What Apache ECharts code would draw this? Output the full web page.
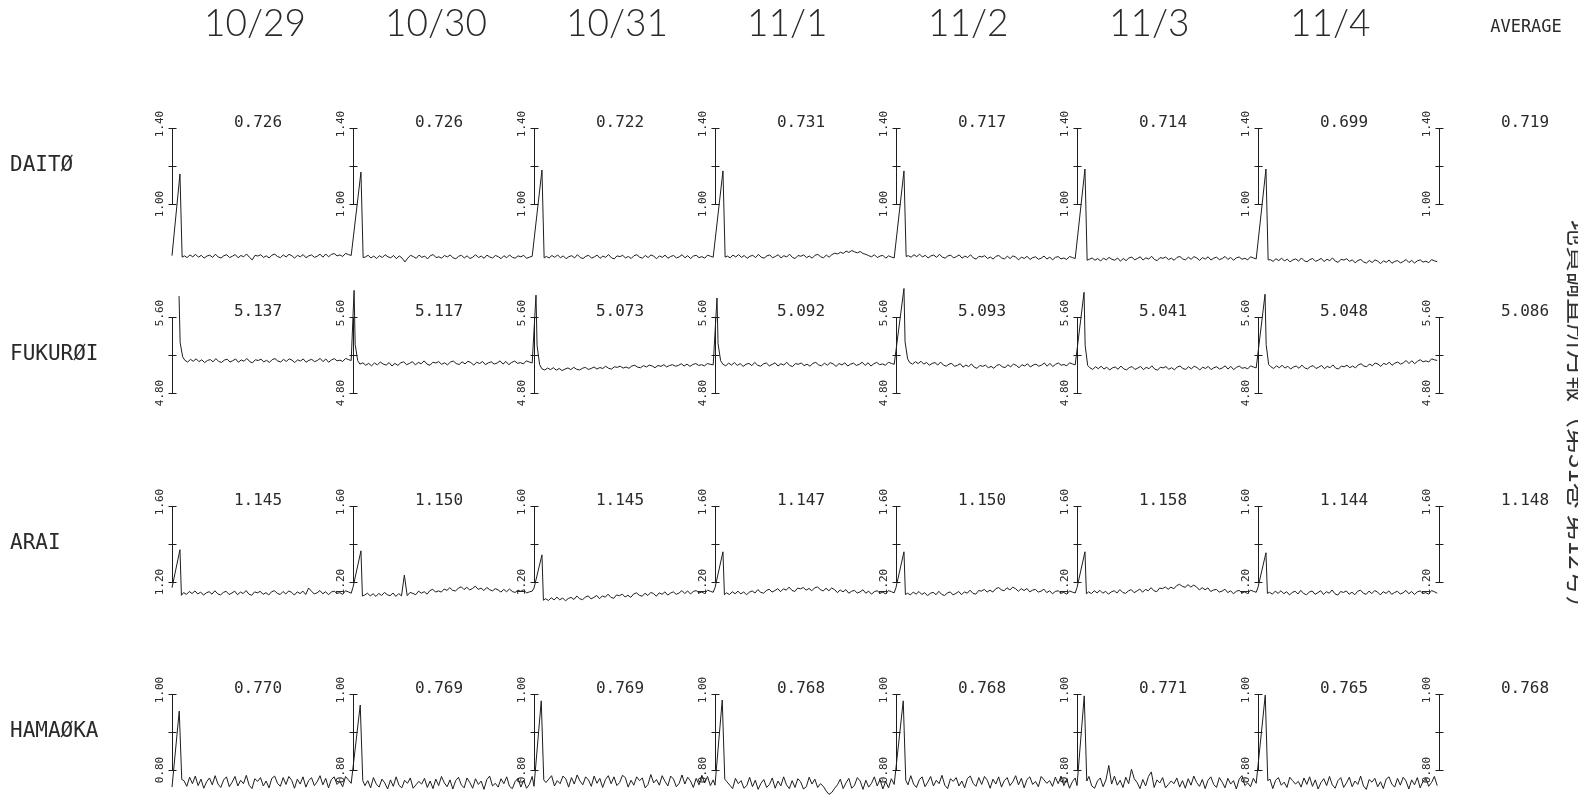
<!DOCTYPE html>
<html>
<head>
<meta charset="utf-8">
<script src="https://cdn.jsdelivr.net/npm/echarts@6/dist/echarts.min.js"></script>
<style>
  html, body { margin: 0; padding: 0; background: #fff; }
  #chart { width: 1578px; height: 799px; }
</style>
</head>
<body>
<div id="chart"></div>
<script>
// ---- Labels ----
const dayLabels = ['10/29', '10/30', '10/31', '11/1', '11/2', '11/3', '11/4'];
const averageTitle = 'AVERAGE';
const stations = ['DAITØ', 'FUKURØI', 'ARAI', 'HAMAØKA'];
const sideNote = '地質調査所月報（第31巻 第12号）';

// Scale bar ticks (low, mid, high) and the printed tick labels per station
const daitoScale = [1.00, 1.20, 1.40];
const fukuroiScale = [4.80, 5.20, 5.60];
const araiScale = [1.20, 1.40, 1.60];
const hamaokaScale = [0.80, 0.90, 1.00];
const daitoScaleLabels = ['1.00', '1.40'];
const fukuroiScaleLabels = ['4.80', '5.60'];
const araiScaleLabels = ['1.20', '1.60'];
const hamaokaScaleLabels = ['0.80', '1.00'];

// Daily means and the seven-day averages
const daitoMeans = [0.726, 0.726, 0.722, 0.731, 0.717, 0.714, 0.699];
const fukuroiMeans = [5.137, 5.117, 5.073, 5.092, 5.093, 5.041, 5.048];
const araiMeans = [1.145, 1.150, 1.145, 1.147, 1.150, 1.158, 1.144];
const hamaokaMeans = [0.770, 0.769, 0.769, 0.768, 0.768, 0.771, 0.765];
const averages = [0.719, 5.086, 1.148, 0.768];

// Calibration pulse at the start of each day: pulse start (fraction of a day),
// shape time offsets, and the three pulse values (start, peak, settle)
const daitoPulseStart = [0, 0, 0, 0, 0, 0, 0];
const daitoPulseShape = [0, 0.044, 0.056];
const daitoPulses = [
  [0.728, 1.158, 0.720], [0.730, 1.168, 0.718], [0.727, 1.179, 0.716], [0.724, 1.174, 0.720],
  [0.722, 1.174, 0.724], [0.712, 1.184, 0.704], [0.718, 1.184, 0.706]
];
const fukuroiPulseStart = [0.039, 0.006, 0.011, 0.011, 0.044, 0.039, 0.039];
const fukuroiPulseShape = [0, 0.006, 0.02];
const fukuroiPulses = [
  [5.82, 5.33, 5.18], [5.88, 5.31, 5.14], [5.83, 5.30, 5.10], [5.80, 5.32, 5.14],
  [5.90, 5.34, 5.16], [5.86, 5.30, 5.09], [5.84, 5.31, 5.10]
];
const araiPulseStart = [0, 0, 0, 0, 0, 0, 0];
const araiPulseShape = [0, 0.044, 0.052];
const araiPulses = [
  [1.170, 1.370, 1.130], [1.172, 1.364, 1.126], [1.168, 1.343, 1.104], [1.170, 1.359, 1.133],
  [1.171, 1.359, 1.134], [1.170, 1.359, 1.138], [1.172, 1.354, 1.140]
];
const hamaokaPulseStart = [0, 0, 0, 0, 0, 0, 0];
const hamaokaPulseShape = [0, 0.040, 0.054];
const hamaokaPulses = [
  [0.755, 0.955, 0.775], [0.760, 0.971, 0.772], [0.757, 0.982, 0.774], [0.760, 0.984, 0.776],
  [0.758, 0.982, 0.773], [0.759, 0.995, 0.771], [0.760, 0.997, 0.772]
];

// Recorded traces for each day after the pulse (evenly spaced through the rest of the day)
const daitoDays = [
  [0.727,0.718,0.732,0.722,0.735,0.720,0.730,0.715,0.726,0.731,0.719,0.736,0.721,0.716,0.728,0.733,0.718,0.725,0.734,0.717,0.729,0.722,0.737,0.720,0.706,0.730,0.726,0.733,0.719,0.727,0.716,0.731,0.736,0.723,0.718,0.732,0.721,0.735,0.728,0.715,0.730,0.722,0.734,0.717,0.727,0.732,0.719,0.725,0.736,0.720,0.737,0.722,0.735,0.739,0.727,0.732,0.724,0.740,0.734,0.729],
  [0.721,0.730,0.716,0.726,0.713,0.728,0.718,0.733,0.722,0.717,0.729,0.712,0.727,0.715,0.695,0.715,0.730,0.723,0.714,0.731,0.719,0.726,0.711,0.728,0.734,0.718,0.722,0.715,0.729,0.721,0.732,0.717,0.712,0.725,0.730,0.716,0.727,0.713,0.720,0.733,0.718,0.726,0.714,0.731,0.721,0.716,0.729,0.723,0.712,0.728,0.717,0.732,0.719,0.715,0.727,0.722,0.730,0.714,0.720,0.725],
  [0.724,0.716,0.729,0.719,0.732,0.717,0.727,0.712,0.723,0.728,0.716,0.733,0.718,0.713,0.725,0.730,0.715,0.722,0.731,0.714,0.726,0.719,0.734,0.717,0.711,0.727,0.723,0.730,0.716,0.724,0.713,0.728,0.733,0.720,0.715,0.729,0.718,0.732,0.725,0.712,0.727,0.719,0.731,0.714,0.724,0.729,0.716,0.722,0.733,0.717,0.728,0.713,0.726,0.730,0.718,0.723,0.715,0.731,0.725,0.720],
  [0.726,0.717,0.731,0.721,0.734,0.719,0.729,0.714,0.725,0.730,0.718,0.735,0.720,0.715,0.727,0.732,0.717,0.724,0.733,0.716,0.728,0.721,0.736,0.719,0.713,0.729,0.725,0.732,0.718,0.726,0.715,0.730,0.735,0.722,0.717,0.731,0.720,0.734,0.741,0.737,0.746,0.740,0.752,0.745,0.755,0.748,0.743,0.750,0.739,0.735,0.728,0.722,0.733,0.718,0.726,0.730,0.715,0.727,0.721,0.716],
  [0.728,0.720,0.733,0.723,0.736,0.721,0.730,0.716,0.727,0.731,0.719,0.735,0.721,0.715,0.727,0.731,0.716,0.723,0.732,0.715,0.726,0.718,0.733,0.716,0.710,0.725,0.721,0.728,0.713,0.721,0.710,0.725,0.729,0.716,0.711,0.725,0.713,0.727,0.720,0.706,0.721,0.713,0.725,0.708,0.718,0.722,0.709,0.715,0.726,0.710,0.721,0.706,0.719,0.723,0.711,0.716,0.708,0.724,0.718,0.713],
  [0.709,0.716,0.704,0.713,0.700,0.715,0.706,0.719,0.709,0.704,0.716,0.699,0.713,0.702,0.716,0.721,0.706,0.713,0.722,0.705,0.717,0.710,0.725,0.708,0.702,0.718,0.714,0.721,0.707,0.715,0.704,0.719,0.724,0.711,0.706,0.720,0.709,0.723,0.716,0.703,0.718,0.710,0.722,0.705,0.715,0.720,0.707,0.713,0.724,0.708,0.719,0.704,0.717,0.721,0.709,0.714,0.706,0.722,0.716,0.711],
  [0.707,0.698,0.712,0.702,0.715,0.700,0.710,0.695,0.706,0.711,0.699,0.716,0.701,0.696,0.708,0.713,0.698,0.705,0.714,0.697,0.709,0.702,0.716,0.699,0.693,0.709,0.705,0.712,0.698,0.706,0.690,0.703,0.708,0.695,0.689,0.703,0.692,0.706,0.699,0.686,0.701,0.693,0.705,0.688,0.698,0.702,0.690,0.697,0.708,0.692,0.703,0.689,0.701,0.706,0.694,0.699,0.691,0.707,0.701,0.696]
];
const fukuroiDays = [
  [5.144,5.126,5.154,5.134,5.160,5.130,5.150,5.120,5.142,5.152,5.128,5.162,5.132,5.122,5.146,5.156,5.126,5.140,5.158,5.124,5.148,5.134,5.164,5.130,5.118,5.150,5.142,5.156,5.128,5.144,5.122,5.152,5.162,5.136,5.126,5.154,5.132,5.160,5.146,5.120,5.150,5.136,5.158,5.124,5.144,5.154,5.130,5.142,5.164,5.130,5.158,5.124,5.148,5.162,5.138,5.146,5.132,5.164,5.152,5.142],
  [5.104,5.118,5.092,5.112,5.086,5.116,5.096,5.126,5.104,5.094,5.120,5.084,5.112,5.090,5.118,5.128,5.098,5.112,5.130,5.096,5.122,5.108,5.138,5.104,5.092,5.124,5.116,5.130,5.102,5.118,5.096,5.126,5.136,5.110,5.100,5.128,5.106,5.134,5.120,5.094,5.124,5.110,5.132,5.098,5.118,5.128,5.104,5.116,5.138,5.104,5.132,5.098,5.122,5.136,5.112,5.120,5.106,5.138,5.126,5.116],
  [5.056,5.042,5.062,5.046,5.066,5.040,5.058,5.036,5.052,5.064,5.046,5.070,5.050,5.042,5.060,5.070,5.048,5.058,5.074,5.052,5.068,5.058,5.082,5.060,5.052,5.076,5.070,5.082,5.062,5.074,5.060,5.084,5.092,5.072,5.066,5.088,5.074,5.094,5.084,5.066,5.090,5.080,5.098,5.074,5.090,5.098,5.082,5.090,5.108,5.084,5.104,5.080,5.100,5.110,5.090,5.098,5.086,5.110,5.102,5.096],
  [5.104,5.086,5.114,5.094,5.120,5.090,5.110,5.080,5.102,5.112,5.088,5.122,5.092,5.082,5.106,5.116,5.086,5.100,5.118,5.084,5.108,5.094,5.124,5.090,5.078,5.110,5.102,5.116,5.088,5.104,5.082,5.112,5.122,5.096,5.086,5.114,5.092,5.120,5.106,5.080,5.110,5.096,5.118,5.084,5.104,5.114,5.090,5.102,5.124,5.090,5.118,5.084,5.108,5.122,5.098,5.106,5.092,5.124,5.112,5.102],
  [5.120,5.104,5.130,5.110,5.134,5.104,5.122,5.092,5.112,5.120,5.094,5.126,5.094,5.082,5.104,5.112,5.080,5.092,5.108,5.072,5.094,5.078,5.106,5.072,5.060,5.090,5.080,5.094,5.066,5.080,5.060,5.090,5.100,5.076,5.068,5.096,5.076,5.104,5.090,5.066,5.098,5.084,5.108,5.074,5.094,5.104,5.082,5.094,5.116,5.082,5.112,5.078,5.102,5.116,5.092,5.100,5.086,5.118,5.106,5.096],
  [5.066,5.048,5.076,5.056,5.082,5.052,5.072,5.042,5.064,5.074,5.050,5.084,5.054,5.044,5.068,5.078,5.048,5.062,5.080,5.046,5.070,5.056,5.086,5.052,5.040,5.072,5.064,5.078,5.050,5.066,5.044,5.074,5.084,5.058,5.048,5.076,5.054,5.082,5.068,5.042,5.072,5.058,5.080,5.046,5.066,5.076,5.052,5.064,5.086,5.052,5.080,5.046,5.070,5.084,5.060,5.068,5.054,5.086,5.074,5.064],
  [5.076,5.058,5.086,5.066,5.092,5.062,5.082,5.052,5.074,5.084,5.060,5.094,5.064,5.054,5.078,5.088,5.058,5.072,5.090,5.056,5.080,5.066,5.096,5.062,5.052,5.084,5.076,5.092,5.066,5.084,5.064,5.096,5.108,5.084,5.076,5.106,5.086,5.116,5.104,5.080,5.112,5.100,5.124,5.092,5.114,5.126,5.104,5.118,5.142,5.110,5.140,5.108,5.134,5.150,5.128,5.138,5.126,5.160,5.150,5.142]
];
const araiDays = [
  [1.144,1.135,1.150,1.139,1.153,1.137,1.147,1.131,1.143,1.149,1.136,1.154,1.138,1.132,1.145,1.151,1.134,1.142,1.152,1.133,1.147,1.139,1.155,1.136,1.130,1.148,1.143,1.151,1.135,1.144,1.132,1.149,1.154,1.140,1.134,1.150,1.137,1.153,1.146,1.131,1.148,1.139,1.152,1.134,1.168,1.152,1.137,1.143,1.155,1.138,1.149,1.133,1.147,1.152,1.140,1.144,1.135,1.154,1.148,1.141],
  [1.131,1.141,1.127,1.138,1.124,1.140,1.129,1.145,1.133,1.128,1.142,1.124,1.139,1.127,1.236,1.128,1.145,1.140,1.133,1.152,1.141,1.149,1.136,1.155,1.162,1.147,1.153,1.147,1.163,1.156,1.170,1.156,1.153,1.167,1.175,1.160,1.172,1.158,1.166,1.178,1.161,1.168,1.155,1.171,1.160,1.153,1.165,1.158,1.147,1.161,1.149,1.163,1.150,1.145,1.157,1.151,1.159,1.142,1.148,1.152],
  [1.112,1.103,1.117,1.106,1.120,1.106,1.116,1.101,1.113,1.119,1.108,1.126,1.112,1.107,1.120,1.127,1.111,1.119,1.129,1.112,1.127,1.120,1.136,1.119,1.114,1.132,1.128,1.136,1.121,1.130,1.119,1.137,1.143,1.130,1.125,1.141,1.129,1.145,1.139,1.125,1.143,1.135,1.148,1.131,1.142,1.148,1.135,1.142,1.155,1.139,1.153,1.137,1.150,1.155,1.143,1.147,1.139,1.157,1.151,1.146],
  [1.143,1.134,1.149,1.138,1.152,1.137,1.148,1.133,1.146,1.153,1.142,1.160,1.146,1.141,1.155,1.162,1.147,1.155,1.165,1.149,1.164,1.157,1.173,1.156,1.150,1.168,1.164,1.171,1.157,1.166,1.154,1.169,1.174,1.160,1.153,1.167,1.154,1.168,1.160,1.144,1.158,1.148,1.160,1.141,1.151,1.156,1.142,1.148,1.159,1.141,1.152,1.136,1.149,1.154,1.141,1.146,1.137,1.155,1.149,1.143],
  [1.141,1.132,1.147,1.136,1.150,1.134,1.144,1.128,1.140,1.146,1.133,1.151,1.135,1.129,1.142,1.148,1.132,1.140,1.150,1.133,1.148,1.141,1.157,1.140,1.136,1.155,1.152,1.161,1.147,1.157,1.147,1.164,1.171,1.159,1.154,1.170,1.158,1.173,1.165,1.151,1.165,1.155,1.166,1.148,1.157,1.161,1.147,1.152,1.162,1.144,1.154,1.138,1.150,1.154,1.141,1.145,1.136,1.153,1.147,1.142],
  [1.148,1.139,1.154,1.143,1.156,1.141,1.151,1.136,1.148,1.154,1.142,1.160,1.145,1.140,1.153,1.160,1.144,1.152,1.163,1.146,1.161,1.154,1.170,1.154,1.149,1.168,1.165,1.174,1.162,1.173,1.164,1.181,1.188,1.177,1.172,1.186,1.173,1.184,1.174,1.158,1.170,1.159,1.169,1.150,1.158,1.161,1.147,1.152,1.162,1.144,1.154,1.138,1.151,1.156,1.143,1.148,1.139,1.157,1.151,1.146],
  [1.146,1.136,1.152,1.140,1.154,1.138,1.149,1.132,1.145,1.151,1.137,1.156,1.139,1.133,1.147,1.153,1.135,1.144,1.154,1.134,1.149,1.141,1.158,1.138,1.131,1.150,1.145,1.153,1.136,1.146,1.133,1.151,1.157,1.141,1.135,1.152,1.139,1.155,1.147,1.132,1.149,1.140,1.153,1.135,1.145,1.151,1.137,1.143,1.156,1.138,1.150,1.134,1.148,1.153,1.140,1.144,1.136,1.155,1.149,1.141]
];
const hamaokaDays = [
  [0.772,0.757,0.781,0.764,0.784,0.759,0.776,0.752,0.769,0.779,0.761,0.785,0.763,0.754,0.774,0.782,0.756,0.768,0.783,0.758,0.773,0.764,0.786,0.760,0.751,0.777,0.770,0.780,0.758,0.771,0.753,0.778,0.784,0.765,0.757,0.780,0.762,0.783,0.773,0.752,0.776,0.763,0.782,0.755,0.772,0.780,0.759,0.769,0.785,0.761,0.778,0.753,0.775,0.782,0.762,0.770,0.756,0.783,0.774,0.765],
  [0.759,0.772,0.753,0.780,0.763,0.755,0.776,0.766,0.750,0.774,0.757,0.782,0.760,0.753,0.773,0.765,0.779,0.752,0.761,0.770,0.763,0.778,0.754,0.771,0.751,0.776,0.759,0.783,0.766,0.756,0.774,0.750,0.772,0.781,0.761,0.753,0.779,0.767,0.752,0.777,0.762,0.771,0.749,0.775,0.784,0.758,0.765,0.755,0.777,0.764,0.782,0.757,0.751,0.770,0.778,0.755,0.773,0.752,0.762,0.783],
  [0.767,0.776,0.785,0.758,0.772,0.764,0.784,0.777,0.755,0.780,0.763,0.787,0.771,0.761,0.782,0.774,0.757,0.784,0.765,0.778,0.754,0.775,0.785,0.764,0.782,0.759,0.767,0.786,0.780,0.755,0.773,0.760,0.782,0.772,0.779,0.753,0.762,0.788,0.766,0.775,0.760,0.785,0.770,0.758,0.784,0.776,0.756,0.765,0.787,0.763,0.781,0.771,0.754,0.778,0.761,0.786,0.766,0.783,0.759,0.774],
  [0.769,0.760,0.751,0.778,0.764,0.772,0.752,0.759,0.781,0.756,0.773,0.749,0.765,0.775,0.754,0.762,0.779,0.752,0.771,0.758,0.782,0.761,0.751,0.772,0.754,0.777,0.769,0.750,0.756,0.781,0.763,0.776,0.754,0.764,0.757,0.745,0.736,0.741,0.752,0.761,0.776,0.751,0.766,0.778,0.752,0.760,0.780,0.771,0.749,0.773,0.755,0.765,0.782,0.758,0.775,0.750,0.770,0.753,0.777,0.762],
  [0.761,0.785,0.763,0.754,0.774,0.782,0.756,0.768,0.783,0.758,0.773,0.764,0.786,0.760,0.751,0.777,0.770,0.780,0.758,0.771,0.753,0.778,0.784,0.765,0.757,0.780,0.762,0.783,0.773,0.752,0.776,0.763,0.782,0.755,0.772,0.780,0.759,0.769,0.785,0.761,0.778,0.753,0.775,0.782,0.762,0.770,0.756,0.783,0.774,0.765,0.772,0.757,0.781,0.764,0.784,0.759,0.776,0.752,0.769,0.779],
  [0.783,0.758,0.752,0.771,0.779,0.756,0.774,0.812,0.763,0.784,0.760,0.773,0.754,0.781,0.764,0.802,0.777,0.767,0.751,0.775,0.758,0.783,0.795,0.754,0.774,0.766,0.780,0.753,0.762,0.771,0.764,0.779,0.755,0.772,0.752,0.777,0.760,0.784,0.767,0.757,0.775,0.751,0.773,0.782,0.762,0.754,0.780,0.768,0.753,0.778,0.763,0.772,0.750,0.776,0.785,0.759,0.766,0.756,0.778,0.765],
  [0.776,0.751,0.773,0.780,0.760,0.768,0.754,0.781,0.772,0.763,0.770,0.755,0.779,0.762,0.782,0.757,0.774,0.750,0.767,0.777,0.759,0.783,0.761,0.752,0.772,0.780,0.754,0.766,0.781,0.756,0.771,0.762,0.784,0.758,0.749,0.775,0.768,0.778,0.756,0.769,0.751,0.776,0.782,0.763,0.755,0.778,0.760,0.781,0.771,0.750,0.774,0.761,0.780,0.753,0.770,0.778,0.757,0.767,0.783,0.759]
];

// ---- Assembly ----
const rows = [
  { scale: daitoScale, scaleLabels: daitoScaleLabels, means: daitoMeans, pulseStart: daitoPulseStart, pulseShape: daitoPulseShape, pulses: daitoPulses, days: daitoDays },
  { scale: fukuroiScale, scaleLabels: fukuroiScaleLabels, means: fukuroiMeans, pulseStart: fukuroiPulseStart, pulseShape: fukuroiPulseShape, pulses: fukuroiPulses, days: fukuroiDays },
  { scale: araiScale, scaleLabels: araiScaleLabels, means: araiMeans, pulseStart: araiPulseStart, pulseShape: araiPulseShape, pulses: araiPulses, days: araiDays },
  { scale: hamaokaScale, scaleLabels: hamaokaScaleLabels, means: hamaokaMeans, pulseStart: hamaokaPulseStart, pulseShape: hamaokaPulseShape, pulses: hamaokaPulses, days: hamaokaDays }
];

const ink = '#1d1d1d';
const textInk = '#2a2a2a';
const mono = '"DejaVu Sans Mono", "Liberation Mono", monospace';
const rowTop = [128, 317, 506, 694];
const rowHeight = 76;
const plotLeft = 172;
const plotWidth = 1267;

// Turn one station's pulses + traces into [time, value] pairs
function buildTrace(row) {
  const pts = [];
  row.days.forEach((vals, d) => {
    const s = row.pulseStart[d];
    row.pulses[d].forEach((v, i) => pts.push([d + s + row.pulseShape[i], v]));
    const t0 = s + row.pulseShape[2] + 0.012;
    const t1 = 0.99;
    const step = (t1 - t0) / (vals.length - 1);
    vals.forEach((v, k) => pts.push([d + t0 + k * step, v]));
  });
  return pts;
}

const grid = [], xAxis = [], yAxis = [], series = [];

rows.forEach((row, i) => {
  grid.push({ left: plotLeft, width: plotWidth, top: rowTop[i], height: rowHeight });
  xAxis.push({ gridIndex: i, type: 'value', min: 0, max: 7, show: false });
  yAxis.push({
    gridIndex: i, type: 'value', min: row.scale[0], max: row.scale[2],
    axisLine: { show: false }, axisTick: { show: false }, axisLabel: { show: false }, splitLine: { show: false },
    name: stations[i], nameLocation: 'middle', nameRotate: 0, nameGap: plotLeft - 10,
    nameTextStyle: { align: 'left', verticalAlign: 'middle', fontFamily: mono, fontSize: 21, color: textInk }
  });

  // the recorded trace
  series.push({
    type: 'line', xAxisIndex: i, yAxisIndex: i, data: buildTrace(row),
    showSymbol: false, symbol: 'none', clip: false, animation: false, silent: true,
    lineStyle: { color: ink, width: 1 }
  });

  // scale bars at every day boundary
  series.push({
    type: 'custom', xAxisIndex: i, yAxisIndex: i, clip: false, silent: true, animation: false,
    data: [0, 1, 2, 3, 4, 5, 6, 7].map(d => [d, row.scale[1]]),
    renderItem: (params, api) => {
      const d = api.value(0);
      const pLo = api.coord([d, row.scale[0]]);
      const pMid = api.coord([d, row.scale[1]]);
      const pHi = api.coord([d, row.scale[2]]);
      const x = Math.round(pLo[0]) + 0.5;
      const tick = p => ({ type: 'line', shape: { x1: x - 4, y1: Math.round(p[1]) + 0.5, x2: x + 4, y2: Math.round(p[1]) + 0.5 }, style: { stroke: ink, lineWidth: 1 } });
      const label = (txt, y) => ({ type: 'text', x: x - 12, y: y, rotation: Math.PI / 2,
        style: { text: txt, align: 'center', verticalAlign: 'middle', font: '11px ' + mono, fill: textInk } });
      return { type: 'group', children: [
        { type: 'line', shape: { x1: x, y1: pHi[1], x2: x, y2: pLo[1] }, style: { stroke: ink, lineWidth: 1 } },
        tick(pLo), tick(pMid), tick(pHi),
        label(row.scaleLabels[1], pHi[1] - 4),
        label(row.scaleLabels[0], pLo[1])
      ] };
    }
  });

  // daily means, plus the average in the last column
  series.push({
    type: 'custom', xAxisIndex: i, yAxisIndex: i, clip: false, silent: true, animation: false,
    data: row.means.map((m, d) => [d, m]).concat([[7, averages[i]]]),
    renderItem: (params, api) => {
      const d = api.value(0);
      const p = api.coord([d + 0.475, row.scale[2]]);
      return { type: 'text', x: p[0], y: p[1] - 5,
        style: { text: api.value(1).toFixed(3), align: 'center', verticalAlign: 'middle', font: '16px ' + mono, fill: textInk } };
    }
  });
});

// date headings over the first row
series.push({
  type: 'custom', xAxisIndex: 0, yAxisIndex: 0, clip: false, silent: true, animation: false,
  data: dayLabels.map((lab, d) => [d, daitoScale[1]]).concat([[7, daitoScale[1]]]),
  renderItem: (params, api) => {
    const d = api.value(0);
    const x = api.coord([d, daitoScale[2]])[0];
    if (d === 7) {
      return { type: 'text', x: x + 87, y: 28,
        style: { text: averageTitle, align: 'center', verticalAlign: 'middle', font: '17px ' + mono, fill: textInk } };
    }
    return { type: 'text', x: x + 32, y: 24,
      style: { text: dayLabels[d], align: 'left', verticalAlign: 'middle', font: '300 37px Lato, "DejaVu Sans", sans-serif', fill: textInk } };
  }
});

const chart = echarts.init(document.getElementById('chart'), null, { renderer: 'canvas' });
chart.setOption({
  animation: false,
  backgroundColor: '#ffffff',
  grid, xAxis, yAxis, series,
  graphic: [{
    type: 'text', x: 1579, y: 220, rotation: -Math.PI / 2, silent: true,
    style: { text: sideNote, align: 'left', verticalAlign: 'middle', font: '26px "Noto Sans CJK JP"', fill: '#333' }
  }]
});
</script>
</body>
</html>
